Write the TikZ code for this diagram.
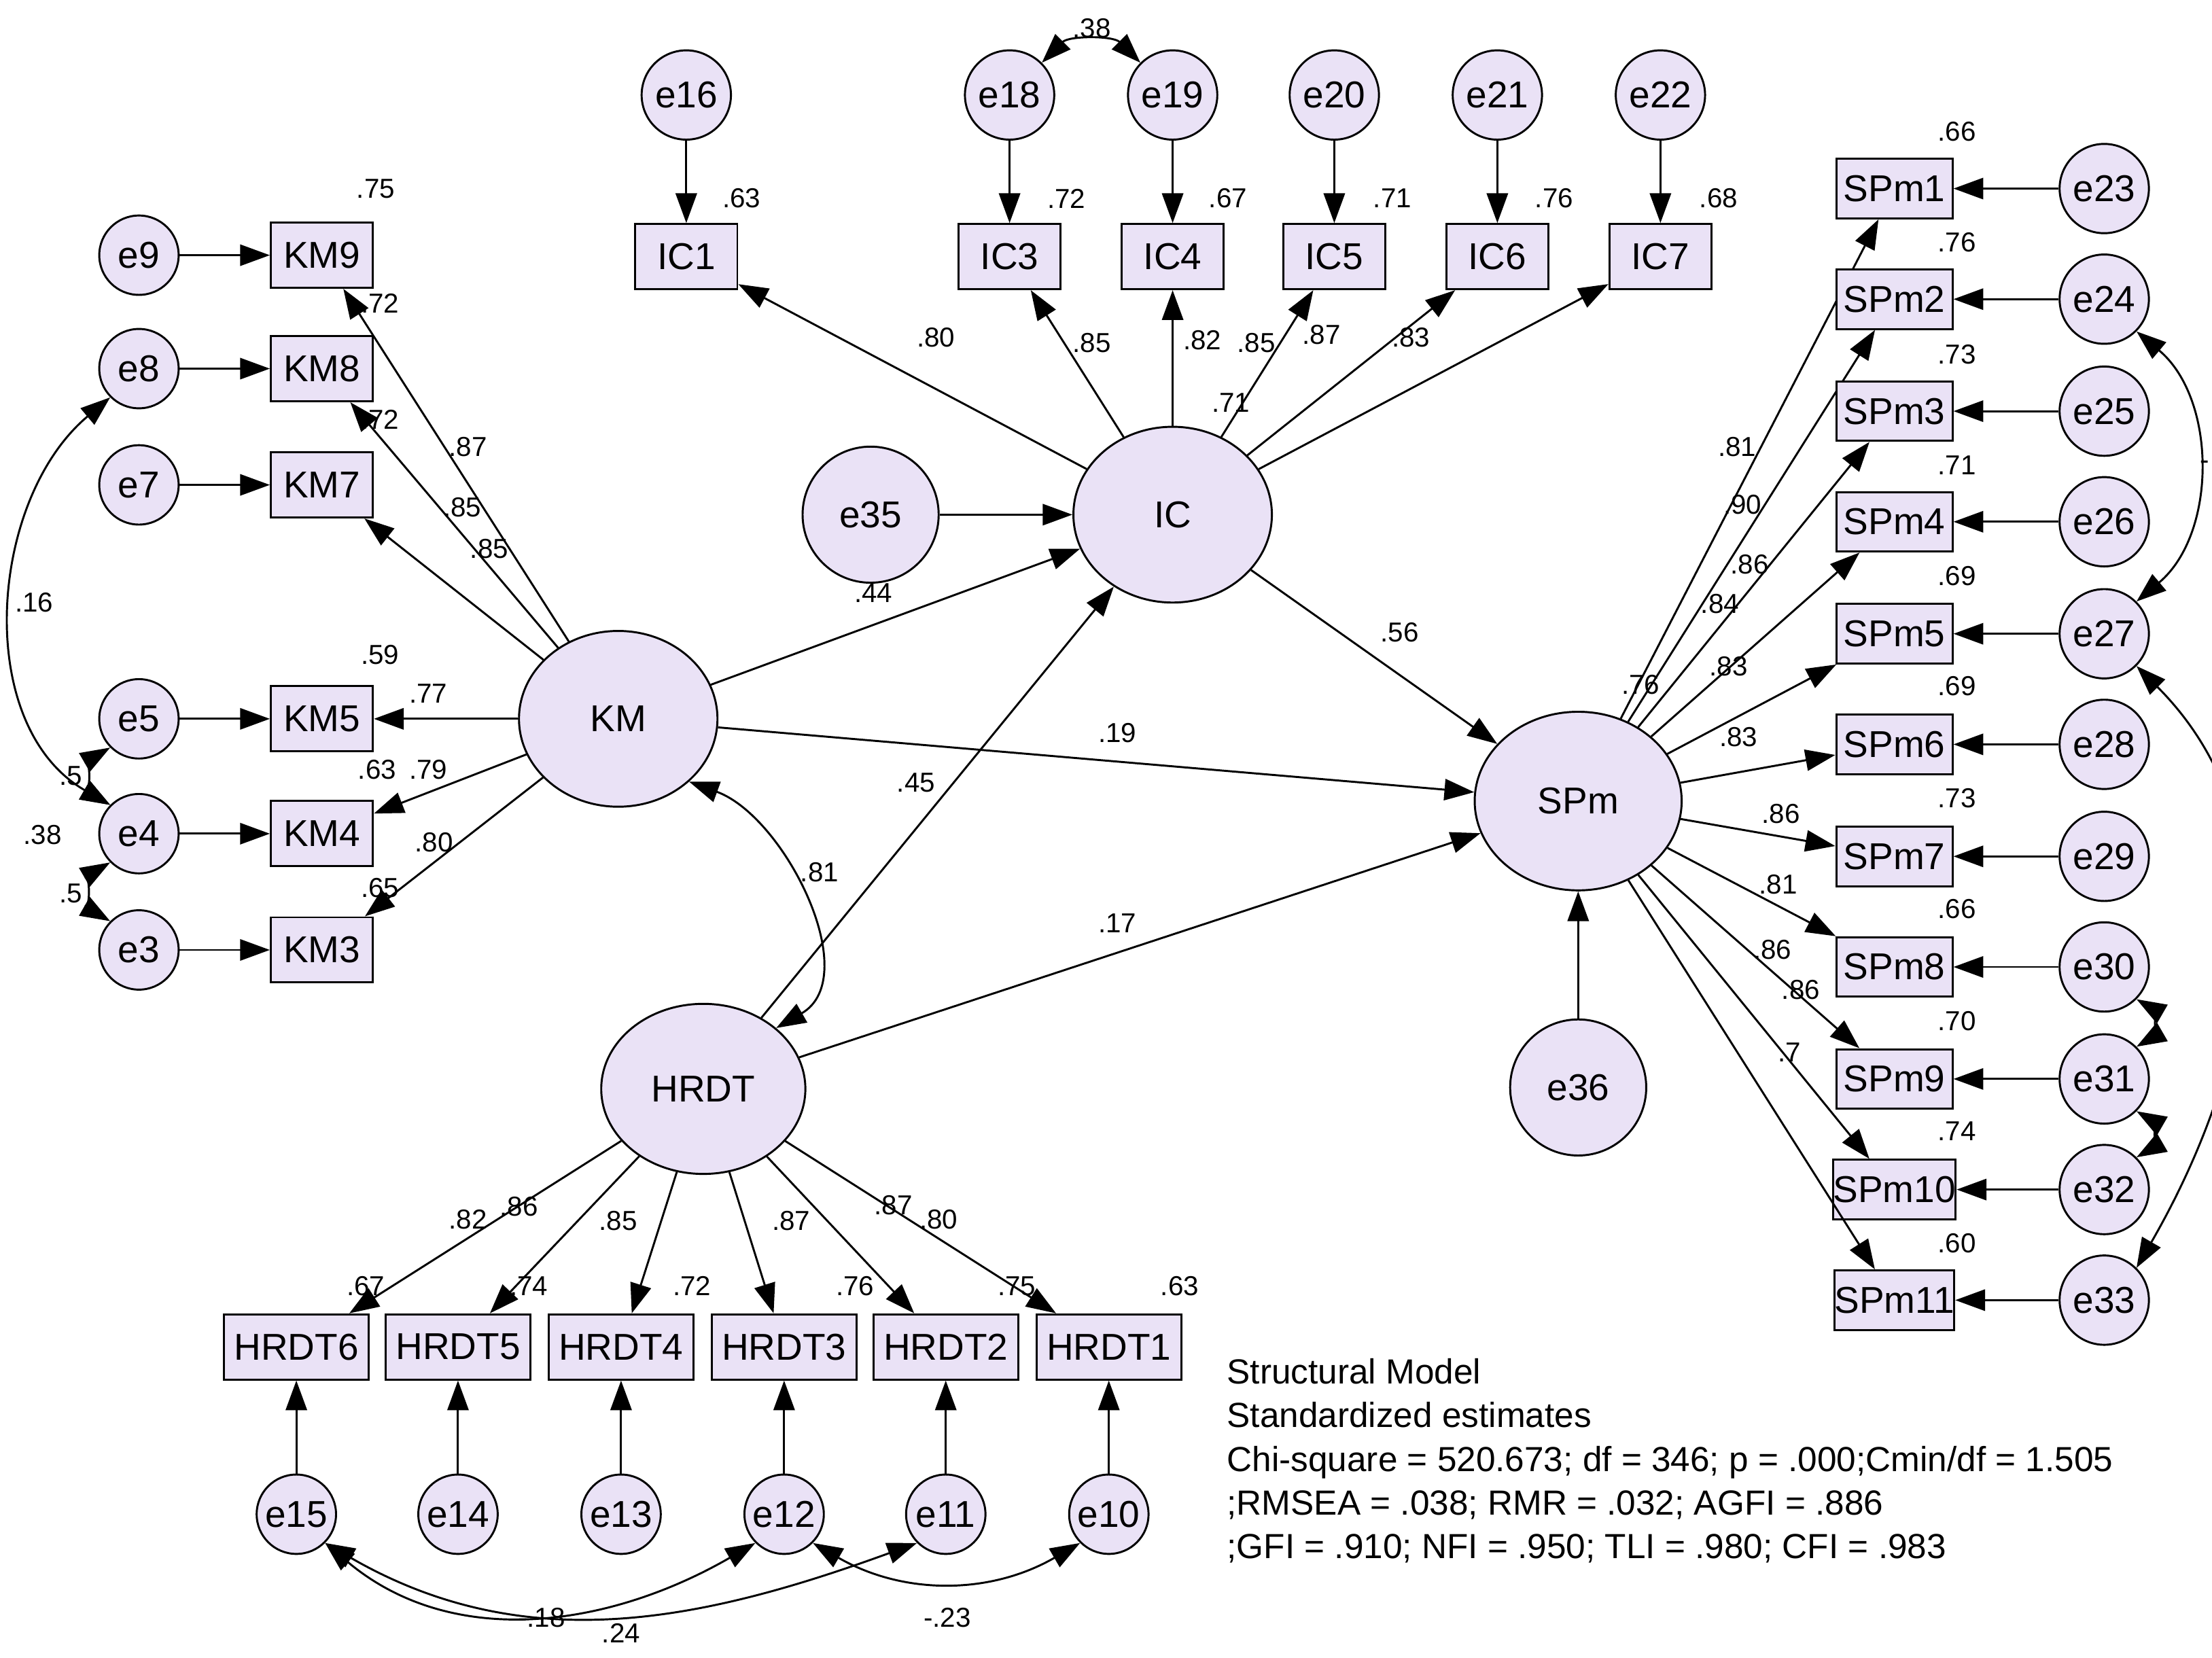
\documentclass[tikz,border=0pt]{standalone}
\usepackage{fontspec}
\setmainfont{Liberation Sans}
\usetikzlibrary{arrows.meta,shapes.geometric}
\definecolor{lav}{RGB}{234,226,246}
\tikzset{
  obs/.style={draw, thick, fill=lav, minimum width=1.44cm, minimum height=0.92cm, inner sep=0pt, font=\fontsize{15}{17}\selectfont},
  sobs/.style={obs, minimum width=1.64cm, minimum height=0.84cm},
  hobs/.style={obs, minimum width=2.04cm},
  err/.style={draw, thick, circle, fill=lav, minimum size=1.12cm, inner sep=0pt, font=\fontsize{15}{17}\selectfont},
  berr/.style={err, minimum size=1.26cm},
  lat/.style={draw, thick, ellipse, fill=lav, minimum width=2.8cm, minimum height=2.48cm, inner sep=0pt, font=\fontsize{15}{17}\selectfont},
  arr/.style={thick, -{Triangle[length=0.42cm,width=0.3cm]}},
  cov/.style={thick, {Triangle[length=0.42cm,width=0.3cm]}-{Triangle[length=0.42cm,width=0.3cm]}},
  lb/.style={font=\fontsize{11}{13}\selectfont, inner sep=1pt}
}
\begin{document}
\begin{tikzpicture}[x=0.02cm,y=-0.02cm]
\useasboundingbox (0,0) rectangle (1560,1169);
% latent variables
\node[lat] (KM) at (436,507) {KM};
\node[lat] (IC) at (827,363) {IC};
\node[lat, minimum width=2.92cm, minimum height=2.52cm] (SPm) at (1113,565) {SPm};
\node[lat, minimum width=2.88cm, minimum height=2.4cm] (HRDT) at (496,768) {HRDT};
\node[err, minimum size=1.92cm] (e35) at (614,363) {e35};
\node[err, minimum size=1.92cm] (e36) at (1113,767) {e36};
% KM indicators
\foreach \n/\y in {9/180,8/260,7/342,5/507,4/588,3/670}{
  \node[obs] (KM\n) at (227,\y) {KM\n};
  \node[err] (e\n) at (98,\y) {e\n};
  \draw[arr] (e\n) -- (KM\n);
  \draw[arr] (KM) -- (KM\n);
}
% IC indicators
\foreach \n/\e/\x in {1/16/484,3/18/712,4/19/827,5/20/941,6/21/1056,7/22/1171}{
  \node[obs] (IC\n) at (\x,181) {IC\n};
  \node[berr] (e\e) at (\x,67) {e\e};
  \draw[arr] (e\e) -- (IC\n);
  \draw[arr] (IC) -- (IC\n);
}
% SPm indicators
\foreach \n/\e/\y in {1/23/133,2/24/211,3/25/290,4/26/368,5/27/447,6/28/525,7/29/604,8/30/682,9/31/761,10/32/839,11/33/917}{
  \node[sobs] (SPm\n) at (1336,\y) {SPm\n};
  \node[berr] (e\e) at (1484,\y) {e\e};
  \draw[arr] (e\e) -- (SPm\n);
  \draw[arr] (SPm) -- (SPm\n);
}
% HRDT indicators
\foreach \n/\e/\x in {6/15/209,5/14/323,4/13/438,3/12/553,2/11/667,1/10/782}{
  \node[hobs] (HRDT\n) at (\x,950) {HRDT\n};
  \node[err] (e\e) at (\x,1068) {e\e};
  \draw[arr] (e\e) -- (HRDT\n);
  \draw[arr] (HRDT) -- (HRDT\n);
}
% structural paths
\draw[arr] (e35) -- (IC);
\draw[arr] (e36) -- (SPm);
\draw[arr] (KM) -- (IC);
\draw[arr] (KM) -- (SPm);
\draw[arr] (IC) -- (SPm);
\draw[arr] (HRDT) -- (IC);
\draw[arr] (HRDT) -- (SPm);
% covariances
\draw[cov] (KM.south east) to[out=-20,in=30] (HRDT.north east);
\draw[cov] (e18.north east) to[bend left=45] (e19.north west);
\draw[cov] (e8.south west) to[out=220,in=150] (e4.north west);
\draw[cov] (e5.south west) to[out=210,in=150] (e4.north west);
\draw[cov] (e4.south west) to[out=210,in=150] (e3.north west);
\draw[cov] (e24.south east) to[out=-40,in=40] (e27.north east);
\draw[cov] (e27.south east) to[out=-45,in=60] (e33.north east);
\draw[cov] (e30.south east) to[out=-30,in=30] (e31.north east);
\draw[cov] (e31.south east) to[out=-30,in=30] (e32.north east);
\draw[cov] (e15.south east) to[out=-40,in=210] (e12.south west);
\draw[cov] (e15.south east) to[out=-30,in=200] (e11.south west);
\draw[cov] (e12.south east) to[out=-30,in=210] (e10.south west);
% squared multiple correlations
\foreach \t/\x/\y in {.75/265/133,.72/268/214,.72/268/296,.59/268/462,.63/266/543,.65/268/626,
  .63/523/140,.72/752/140,.67/866/140,.71/982/140,.76/1096/140,.68/1212/140,
  .71/868/284,.44/616/418,.76/1157/483,
  .66/1380/93,.76/1380/171,.73/1380/250,.71/1380/328,.69/1380/406,.69/1380/484,.73/1380/563,.66/1380/641,.70/1380/720,.74/1380/798,.60/1380/877,
  .67/258/907,.74/373/907,.72/488/907,.76/603/907,.75/717/907,.63/832/907}
  \node[lb] at (\x,\y) {\t};
% estimates
\foreach \t/\x/\y in {.87/330/315,.85/326/358,.85/345/387,.77/302/489,.79/302/543,.80/306/594,
  .80/660/238,.85/770/242,.82/848/240,.85/886/242,.87/932/236,.83/995/238,
  .81/1225/315,.90/1229/356,.86/1234/398,.84/1213/426,.83/1219/470,.83/1226/520,.86/1256/574,.81/1254/624,.86/1250/670,.86/1270/698,.7/1262/742,
  .56/987/446,.19/788/517,.45/646/552,.17/788/651,.81/578/615,
  .82/330/860,.86/366/851,.85/436/861,.87/558/861,.87/630/850,.80/662/860,
  .16/24/425,.38/30/589,.5/50/547,.5/50/630,.38/770/20,
  -.18/382/1141,.24/438/1152,-.23/668/1141}
  \node[lb] at (\x,\y) {\t};
\node[lb] at (1555,328) {-};
% fit summary
\node[anchor=north west, align=left, inner sep=0pt, font=\fontsize{14}{17.5}\selectfont] (fit) at (865,958)
 {Structural Model\\Standardized estimates\\Chi-square = 520.673; df = 346; p = .000;Cmin/df = 1.505\\;RMSEA = .038; RMR = .032; AGFI = .886\\;GFI = .910; NFI = .950; TLI = .980; CFI = .983};
\end{tikzpicture}
\end{document}
